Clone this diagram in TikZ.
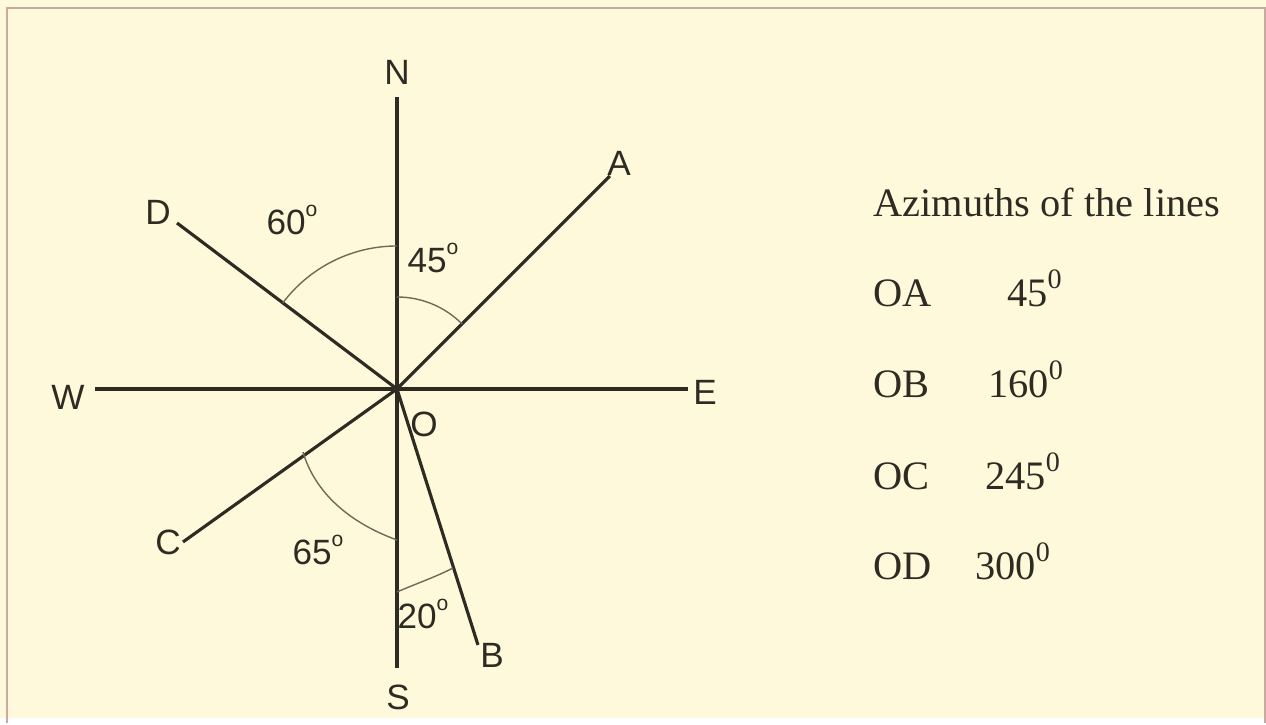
\documentclass[tikz,border=0pt]{standalone}
\usepackage{fontspec}
\setmainfont{Liberation Serif}
\setsansfont{Liberation Sans}
\usetikzlibrary{positioning}
\definecolor{paper}{HTML}{FFF9DC}
\definecolor{rim}{HTML}{C9A9A0}
\definecolor{ink}{HTML}{2E2B22}
\definecolor{arcgrey}{HTML}{6E6A58}
\newcommand{\dgo}{\raisebox{0.5em}{\fontsize{12}{12}\selectfont o}}
\newcommand{\dgz}{\raisebox{0.45em}{\fontsize{16}{16}\selectfont 0}}
\tikzset{ray/.style={ink,line width=1.8pt},
  ang/.style={arcgrey,line width=0.8pt},
  lbl/.style={font=\sffamily\fontsize{20}{24}\selectfont,text=ink,inner sep=0pt},
  tab/.style={font=\fontsize{23}{27}\selectfont,text=ink,inner sep=0pt,anchor=base west}}

\begin{document}
\begin{tikzpicture}[x=0.02cm,y=0.02cm]
\fill[paper] (0,0) rectangle (1266,718);
\draw[rim,line width=1.2pt] (7,-5) -- (7,710) -- (1265,710) -- (1265,-5);
\useasboundingbox (0,0) rectangle (1266,718);
% compass and lines
\coordinate (O) at (397,329);
\coordinate (Nt) at (397,621); \coordinate (St) at (397,50);
\coordinate (Wt) at (95,329); \coordinate (Et) at (688,329);
\coordinate (At) at (610,542); \coordinate (Bt) at (478,73);
\coordinate (Ct) at (183,176); \coordinate (Dt) at (177,495);
\draw[ray] (O)--(Nt); \draw[ray] (O)--(St); \draw[ray] (O)--(Wt); \draw[ray] (O)--(Et);
\draw[ray] (O)--(At); \draw[ray] (O)--(Bt); \draw[ray] (O)--(Ct); \draw[ray] (O)--(Dt);
\node[lbl] (lN) at (397,646){N}; \node[lbl] (lS) at (398,21){S};
\node[lbl] (lW) at (68,321){W}; \node[lbl] (lE) at (705,326){E};
\node[lbl] (lA) at (619,555){A}; \node[lbl] (lB) at (492,63){B};
\node[lbl] (lC) at (168,176){C}; \node[lbl] (lD) at (158,506){D};
\node[lbl] (lO) at (424,294){O};
% angle marks
\draw[ang] (397,421) arc[start angle=90,end angle=45,radius=92];
\draw[ang] (397,472) arc[start angle=90,end angle=143,radius=143];
\draw[ang] (303,266) .. controls (315,225) and (350,195) .. (397,178);
\draw[ang] (397,126) .. controls (418,135) and (438,142) .. (453,150);
\node[lbl] (a60) at (292,498){60\dgo}; \node[lbl] (a45) at (433,460){45\dgo};
\node[lbl] (a65) at (318,168){65\dgo}; \node[lbl] (a20) at (423,104){20\dgo};
% table
\node[tab] (tt) at (873,501){Azimuths of the lines};
\node[tab] (oa) at (873,411){OA}; \node[tab] (va) at (1007,411){45\dgz};
\node[tab] (ob) at (873,320){OB}; \node[tab] (vb) at (988,320){160\dgz};
\node[tab] (oc) at (873,228){OC}; \node[tab] (vc) at (985,228){245\dgz};
\node[tab] (od) at (873,138){OD}; \node[tab] (vd) at (975,138){300\dgz};
\end{tikzpicture}
\end{document}
